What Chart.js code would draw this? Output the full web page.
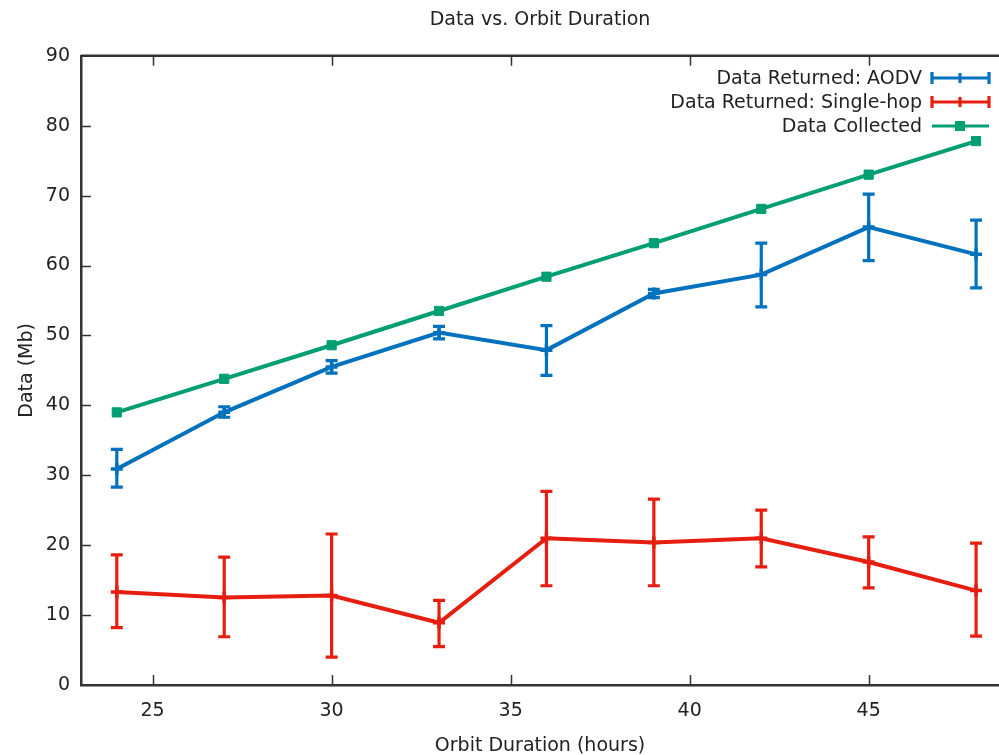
<!DOCTYPE html>
<html>
<head>
    <title>Data vs. Orbit Duration</title>
    <script src="https://cdn.jsdelivr.net/npm/chart.js"></script>
    <style>
        html, body { margin: 0; padding: 0; background: #fff; }
        canvas { display: block; }
    </style>
</head>
<body>
    <canvas id="orbitChart" width="999" height="755"></canvas>

    <script>
        // values
        const hours = [24, 27, 30, 33, 36, 39, 42, 45, 48];

        const aodv     = [30.9, 39.0, 45.5, 50.4, 47.9, 56.0, 58.7, 65.5, 61.6];
        const aodvLow  = [28.3, 38.3, 44.6, 49.5, 44.3, 55.4, 54.1, 60.7, 56.8];
        const aodvHigh = [33.7, 39.8, 46.4, 51.3, 51.4, 56.6, 63.2, 70.2, 66.5];

        const singleHop     = [13.3, 12.5, 12.8, 8.9, 21.0, 20.4, 21.0, 17.6, 13.5];
        const singleHopLow  = [8.2, 6.9, 4.0, 5.5, 14.2, 14.2, 16.9, 13.9, 7.0];
        const singleHopHigh = [18.6, 18.3, 21.6, 12.1, 27.7, 26.6, 25.0, 21.2, 20.3];

        const collected = [39.0, 43.8, 48.6, 53.5, 58.4, 63.2, 68.1, 73.0, 77.8];

        const xTicks = [25, 30, 35, 40, 45];
        const yTicks = [0, 10, 20, 30, 40, 50, 60, 70, 80, 90];

        const BLUE = '#0072bd';
        const RED = '#e51e10';
        const GREEN = '#009e73';
        const AXIS = '#333333';
        const TEXT = '#222222';
        const FONT = 'DejaVu Sans';

        function pts(ys) {
            return hours.map((h, i) => ({ x: h, y: ys[i] }));
        }

        // gnuplot style: error bars, inward ticks, top border, legend box on the right
        const gnuplotLook = {
            id: 'gnuplotLook',
            beforeDatasetsDraw(chart) {
                const ctx = chart.ctx;
                const xs = chart.scales.x, ys = chart.scales.y;
                ctx.save();
                chart.data.datasets.forEach(ds => {
                    if (!ds.errLow) return;
                    ctx.strokeStyle = ds.borderColor;
                    ctx.lineWidth = 3.2;
                    hours.forEach((h, i) => {
                        const px = xs.getPixelForValue(h);
                        const lo = ys.getPixelForValue(ds.errLow[i]);
                        const hi = ys.getPixelForValue(ds.errHigh[i]);
                        ctx.beginPath();
                        ctx.moveTo(px, lo); ctx.lineTo(px, hi);
                        ctx.moveTo(px - 6, lo); ctx.lineTo(px + 6, lo);
                        ctx.moveTo(px - 6, hi); ctx.lineTo(px + 6, hi);
                        ctx.stroke();
                    });
                });
                ctx.restore();
            },
            afterDraw(chart) {
                const ctx = chart.ctx;
                const area = chart.chartArea;
                const xs = chart.scales.x, ys = chart.scales.y;
                ctx.save();
                ctx.strokeStyle = AXIS;
                ctx.lineWidth = 2.5;
                ctx.beginPath();
                ctx.moveTo(area.left, area.top);
                ctx.lineTo(area.right, area.top);
                ctx.stroke();

                ctx.lineWidth = 1.5;
                ctx.beginPath();
                yTicks.forEach(v => {
                    const py = Math.round(ys.getPixelForValue(v)) + 0.5;
                    if (v === 0 || v === 90) return;
                    ctx.moveTo(area.left, py); ctx.lineTo(area.left + 10, py);
                });
                xTicks.forEach(v => {
                    const px = Math.round(xs.getPixelForValue(v)) + 0.5;
                    ctx.moveTo(px, area.bottom); ctx.lineTo(px, area.bottom - 10);
                    ctx.moveTo(px, area.top); ctx.lineTo(px, area.top + 10);
                });
                ctx.stroke();

                // legend
                const rowY = [78, 102, 126];
                const textRight = 922, s0 = 932, s1 = 989, sm = 960;
                ctx.font = '19px "' + FONT + '"';
                ctx.textAlign = 'right';
                ctx.textBaseline = 'middle';
                chart.data.datasets.forEach((ds, i) => {
                    const y = rowY[i];
                    ctx.fillStyle = TEXT;
                    ctx.fillText(ds.label, textRight, y + 1);
                    ctx.strokeStyle = ds.borderColor;
                    ctx.fillStyle = ds.borderColor;
                    ctx.lineWidth = 3.2;
                    ctx.beginPath();
                    ctx.moveTo(s0, y); ctx.lineTo(s1, y);
                    if (ds.errLow) {
                        ctx.moveTo(s0, y - 6); ctx.lineTo(s0, y + 6);
                        ctx.moveTo(s1, y - 6); ctx.lineTo(s1, y + 6);
                        ctx.moveTo(sm, y - 5); ctx.lineTo(sm, y + 5);
                    }
                    ctx.stroke();
                    if (!ds.errLow) {
                        ctx.fillRect(sm - 5, y - 5, 10, 10);
                    }
                });
                ctx.restore();
            }
        };

        const chartCtx = document.getElementById('orbitChart').getContext('2d');
        const orbitChart = new Chart(chartCtx, {
            type: 'line',
            data: {
                datasets: [{
                    label: 'Data Returned: AODV',
                    data: pts(aodv),
                    errLow: aodvLow,
                    errHigh: aodvHigh,
                    borderColor: BLUE,
                    backgroundColor: BLUE,
                    borderWidth: 4,
                    pointStyle: 'cross',
                    pointRadius: 6,
                    pointBorderWidth: 3.5,
                    fill: false
                }, {
                    label: 'Data Returned: Single-hop',
                    data: pts(singleHop),
                    errLow: singleHopLow,
                    errHigh: singleHopHigh,
                    borderColor: RED,
                    backgroundColor: RED,
                    borderWidth: 4,
                    pointStyle: 'cross',
                    pointRadius: 6,
                    pointBorderWidth: 3.5,
                    fill: false
                }, {
                    label: 'Data Collected',
                    data: pts(collected),
                    borderColor: GREEN,
                    backgroundColor: GREEN,
                    borderWidth: 4,
                    pointStyle: 'rect',
                    pointRadius: 6.5,
                    pointBorderWidth: 1,
                    fill: false
                }]
            },
            options: {
                responsive: false,
                animation: false,
                layout: { padding: 0, autoPadding: false },
                plugins: {
                    legend: { display: false },
                    tooltip: { enabled: false },
                    title: {
                        display: true,
                        text: 'Data vs. Orbit Duration',
                        fullSize: false,
                        color: TEXT,
                        font: { family: FONT, size: 19, weight: 'normal' },
                        padding: { top: 9, bottom: 24 }
                    }
                },
                scales: {
                    x: {
                        type: 'linear',
                        min: 23,
                        max: 48.64,
                        afterBuildTicks: s => { s.ticks = xTicks.map(v => ({ value: v })); },
                        afterFit: s => { s.height = 70; s.paddingRight = 0; s.paddingLeft = 0; },
                        grid: { display: false, drawTicks: false },
                        border: { display: true, color: AXIS, width: 2.5 },
                        ticks: {
                            color: TEXT,
                            padding: 15,
                            maxRotation: 0,
                            font: { family: FONT, size: 19 }
                        },
                        title: {
                            display: true,
                            text: 'Orbit Duration (hours)',
                            color: TEXT,
                            font: { family: FONT, size: 19 },
                            padding: { top: 0, bottom: -2 }
                        }
                    },
                    y: {
                        min: 0,
                        max: 90,
                        afterBuildTicks: s => { s.ticks = yTicks.map(v => ({ value: v })); },
                        afterFit: s => { s.width = 81; },
                        grid: { display: false, drawTicks: false },
                        border: { display: true, color: AXIS, width: 2.5 },
                        ticks: {
                            color: TEXT,
                            padding: 11,
                            font: { family: FONT, size: 19 }
                        },
                        title: {
                            display: true,
                            text: 'Data (Mb)',
                            color: TEXT,
                            font: { family: FONT, size: 19 },
                            padding: { top: 16, bottom: 0 }
                        }
                    }
                }
            },
            plugins: [gnuplotLook]
        });
    </script>
</body>
</html>
